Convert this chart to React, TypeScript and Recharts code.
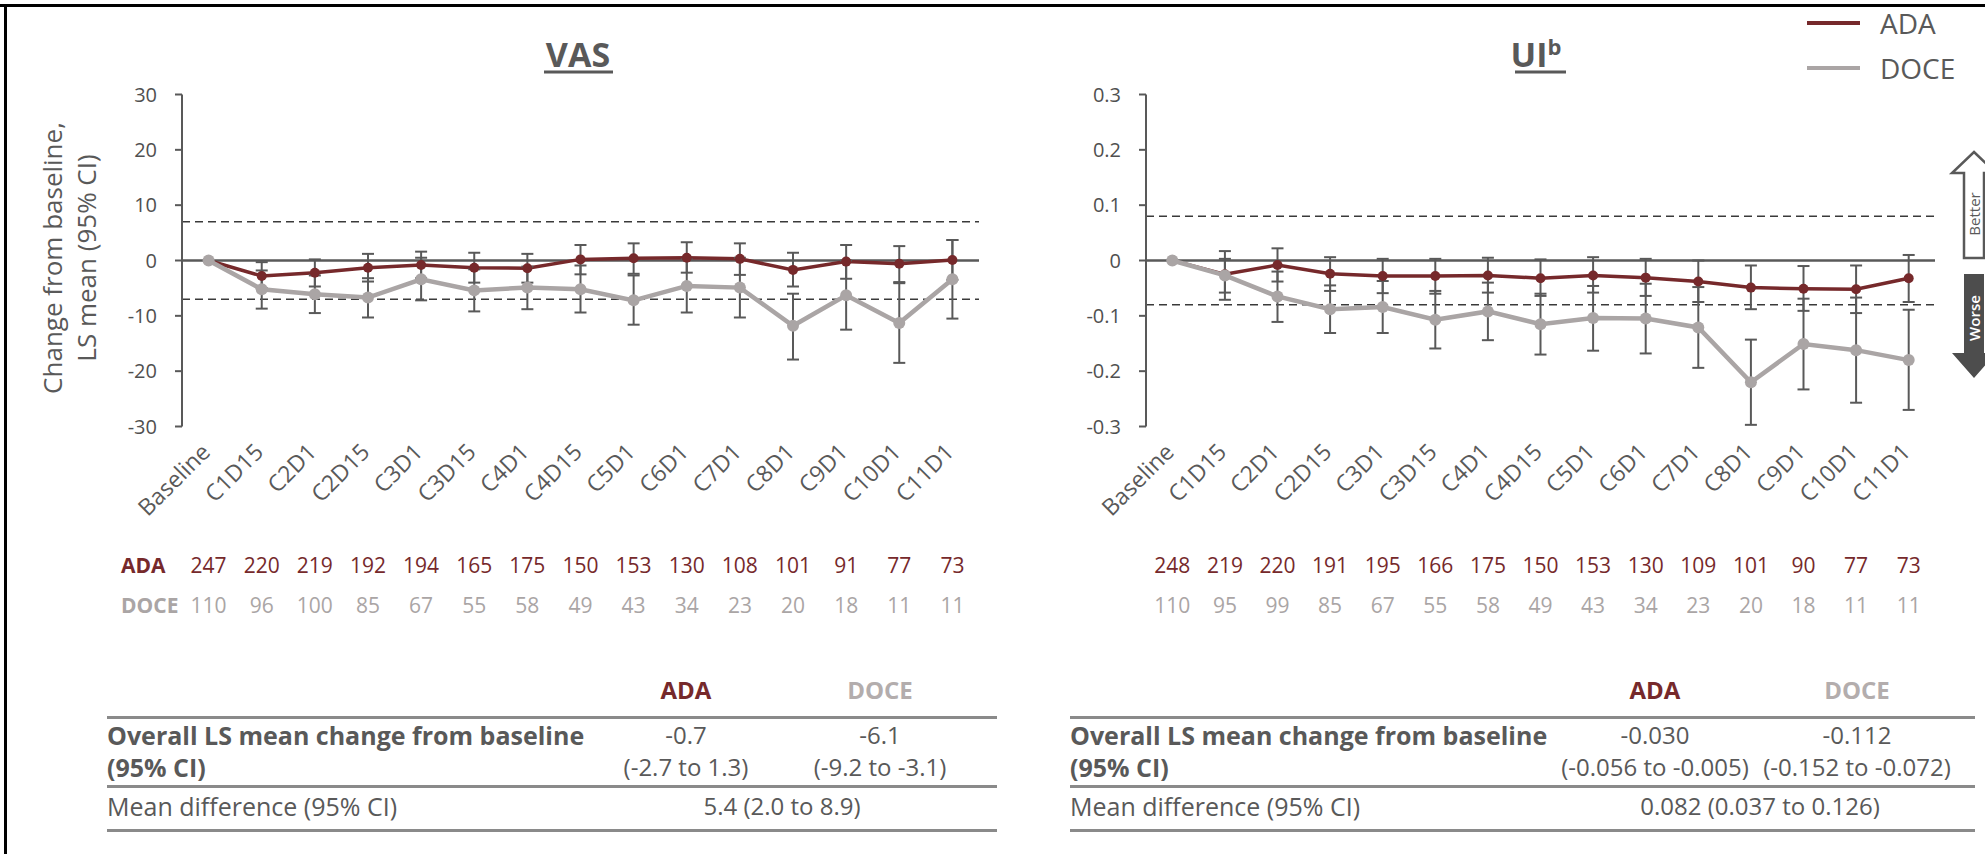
import React from "react";
import {
  LineChart,
  Line,
  XAxis,
  YAxis,
  ErrorBar,
  ReferenceLine,
} from "recharts";

const visits = [
  "Baseline", "C1D15", "C2D1", "C2D15", "C3D1", "C3D15", "C4D1", "C4D15",
  "C5D1", "C6D1", "C7D1", "C8D1", "C9D1", "C10D1", "C11D1",
];

// VAS, LS mean change from baseline with 95% CI
const vasAda = [0, -2.8, -2.2, -1.3, -0.8, -1.3, -1.4, 0.2, 0.4, 0.5, 0.3, -1.7, -0.2, -0.6, 0.1];
const vasAdaLo = [0, -5.0, -4.7, -3.8, -3.2, -4.0, -4.0, -2.5, -2.4, -2.2, -2.6, -4.7, -3.3, -3.9, -3.5];
const vasAdaHi = [0, -0.3, 0.2, 1.2, 1.6, 1.4, 1.2, 2.8, 3.1, 3.3, 3.1, 1.4, 2.8, 2.6, 3.7];
const vasDoce = [0, -5.2, -6.1, -6.7, -3.4, -5.4, -4.9, -5.2, -7.2, -4.6, -4.9, -11.8, -6.3, -11.3, -3.4];
const vasDoceLo = [0, -8.7, -9.5, -10.3, -7.2, -9.2, -8.8, -9.4, -11.6, -9.4, -10.3, -17.9, -12.5, -18.5, -10.5];
const vasDoceHi = [0, -1.8, -2.7, -3.2, 0.5, -1.6, -1.1, -0.9, -2.7, 0.2, 0.5, -6.0, 0.0, -4.1, 3.7];

// UI
const uiAda = [0, -0.025, -0.008, -0.024, -0.028, -0.028, -0.027, -0.032, -0.027, -0.031, -0.038, -0.049, -0.051, -0.052, -0.032];
const uiAdaLo = [0, -0.058, -0.038, -0.055, -0.059, -0.060, -0.058, -0.064, -0.058, -0.064, -0.075, -0.088, -0.091, -0.095, -0.075];
const uiAdaHi = [0, 0.003, 0.022, 0.006, 0.003, 0.003, 0.005, 0.002, 0.006, 0.003, 0.0, -0.009, -0.010, -0.009, 0.010];
const uiDoce = [0, -0.027, -0.065, -0.088, -0.084, -0.107, -0.092, -0.115, -0.104, -0.105, -0.121, -0.220, -0.151, -0.162, -0.180];
const uiDoceLo = [0, -0.071, -0.111, -0.131, -0.131, -0.159, -0.144, -0.170, -0.163, -0.168, -0.194, -0.297, -0.233, -0.257, -0.270];
const uiDoceHi = [0, 0.017, -0.020, -0.045, -0.037, -0.055, -0.040, -0.060, -0.046, -0.042, -0.048, -0.143, -0.069, -0.067, -0.089];

// patients at each visit
const vasNAda = [247, 220, 219, 192, 194, 165, 175, 150, 153, 130, 108, 101, 91, 77, 73];
const vasNDoce = [110, 96, 100, 85, 67, 55, 58, 49, 43, 34, 23, 20, 18, 11, 11];
const uiNAda = [248, 219, 220, 191, 195, 166, 175, 150, 153, 130, 109, 101, 90, 77, 73];
const uiNDoce = [110, 95, 99, 85, 67, 55, 58, 49, 43, 34, 23, 20, 18, 11, 11];

const vasTicks = [-30, -20, -10, 0, 10, 20, 30];
const uiTicks = [-0.3, -0.2, -0.1, 0, 0.1, 0.2, 0.3];

const FONT = "'Open Sans', 'DejaVu Sans', sans-serif";
const RED = "#76292b";
const GREY = "#aaa5a5";
const TXT = "#595959";

function buildRows(a: number[], aLo: number[], aHi: number[], d: number[], dLo: number[], dHi: number[]) {
  return visits.map((visit, i) => ({
    visit,
    ada: a[i],
    doce: d[i],
    adaErr: i === 0 ? null : [a[i] - aLo[i], aHi[i] - a[i]],
    doceErr: i === 0 ? null : [d[i] - dLo[i], dHi[i] - d[i]],
  }));
}

const vasRows = buildRows(vasAda, vasAdaLo, vasAdaHi, vasDoce, vasDoceLo, vasDoceHi);
const uiRows = buildRows(uiAda, uiAdaLo, uiAdaHi, uiDoce, uiDoceLo, uiDoceHi);

function makeTick(nA: number[], nD: number[]) {
  return (props: any) => {
    const { x, y, payload } = props;
    const i = visits.indexOf(payload.value);
    const ax = x + 3;
    const ay = y + 27;
    return (
      <g fontFamily={FONT}>
        <text
          x={ax}
          y={ay}
          transform={`rotate(-45 ${ax} ${ay})`}
          textAnchor="end"
          fontSize={23}
          fill={TXT}
        >
          {payload.value}
        </text>
        <text x={x} y={y + 146} textAnchor="middle" fontSize={21} fill={RED}>
          {nA[i]}
        </text>
        <text x={x} y={y + 186} textAnchor="middle" fontSize={21} fill={GREY}>
          {nD[i]}
        </text>
      </g>
    );
  };
}

interface PanelProps {
  rows: any[];
  left: number;
  width: number;
  marginLeft: number;
  marginRight: number;
  pad: number;
  ticks: number[];
  mid: number;
  nA: number[];
  nD: number[];
  fmt: (v: number) => string;
}

function Panel({ rows, left, width, marginLeft, marginRight, pad, ticks, mid, nA, nD, fmt }: PanelProps) {
  const lo = ticks[0];
  const hi = ticks[ticks.length - 1];
  return (
    <div style={{ position: "absolute", left, top: 0 }}>
      <LineChart
        width={width}
        height={640}
        data={rows}
        margin={{ top: 94.5, left: marginLeft, right: marginRight, bottom: 13.5 }}
      >
        <XAxis
          dataKey="visit"
          interval={0}
          height={200}
          axisLine={false}
          tickLine={false}
          tickSize={0}
          tickMargin={0}
          padding={{ left: pad, right: pad }}
          tick={makeTick(nA, nD)}
        />
        <YAxis
          width={60}
          domain={[lo, hi]}
          ticks={ticks}
          allowDataOverflow
          tickFormatter={fmt}
          stroke={TXT}
          strokeWidth={2}
          tickSize={7}
          tickMargin={18}
          tick={{ fontSize: 20, fill: "#505050", fontFamily: FONT }}
        />
        <ReferenceLine y={mid} stroke="#3a3a3a" strokeWidth={1.5} strokeDasharray="8 5" />
        <ReferenceLine y={-mid} stroke="#3a3a3a" strokeWidth={1.5} strokeDasharray="8 5" />
        <ReferenceLine y={0} stroke={TXT} strokeWidth={2.5} />
        <Line
          dataKey="ada"
          stroke={RED}
          strokeWidth={3.5}
          dot={{ r: 5, fill: RED, stroke: "none" }}
          activeDot={false}
          isAnimationActive={false}
        >
          <ErrorBar dataKey="adaErr" direction="y" width={6} strokeWidth={2} stroke={TXT} />
        </Line>
        <Line
          dataKey="doce"
          stroke={GREY}
          strokeWidth={4.5}
          dot={{ r: 6, fill: GREY, stroke: "none" }}
          activeDot={false}
          isAnimationActive={false}
        >
          <ErrorBar dataKey="doceErr" direction="y" width={6} strokeWidth={2} stroke={TXT} />
        </Line>
      </LineChart>
    </div>
  );
}

function Cell({ x, y, children, bold, color, align, size }: any) {
  const w = 480;
  const isLeft = align === "left";
  return (
    <div
      style={{
        position: "absolute",
        left: isLeft ? x : x - w / 2,
        top: y - 16,
        width: w,
        height: 32,
        lineHeight: "32px",
        textAlign: isLeft ? "left" : "center",
        fontWeight: bold ? 700 : 400,
        color: color || TXT,
        fontSize: size || 24,
        whiteSpace: "nowrap",
      }}
    >
      {children}
    </div>
  );
}

function Rule({ x1, x2, y }: { x1: number; x2: number; y: number }) {
  return (
    <div style={{ position: "absolute", left: x1, top: y - 1.5, width: x2 - x1, height: 3, background: "#8a8a8a" }} />
  );
}

function Table({ x1, x2, cA, cD, cDiff, a, aCi, d, dCi, diff }: any) {
  return (
    <>
      <Cell x={cA} y={690} bold color={RED}>ADA</Cell>
      <Cell x={cD} y={690} bold color="#b3adad">DOCE</Cell>
      <Rule x1={x1} x2={x2} y={717} />
      <Cell x={x1} y={735} bold align="left" size={25}>Overall LS mean change from baseline</Cell>
      <Cell x={x1} y={767} bold align="left" size={25}>(95% CI)</Cell>
      <Cell x={cA} y={735}>{a}</Cell>
      <Cell x={cA} y={767}>{aCi}</Cell>
      <Cell x={cD} y={735}>{d}</Cell>
      <Cell x={cD} y={767}>{dCi}</Cell>
      <Rule x1={x1} x2={x2} y={786} />
      <Cell x={x1} y={806} align="left" size={25}>Mean difference (95% CI)</Cell>
      <Cell x={cDiff} y={806}>{diff}</Cell>
      <Rule x1={x1} x2={x2} y={830} />
    </>
  );
}

export default function App() {
  return (
    <div
      style={{
        position: "absolute",
        left: 0,
        top: 0,
        width: 1985,
        height: 854,
        background: "#fff",
        overflow: "hidden",
        fontFamily: FONT,
      }}
    >
      <Panel
        rows={vasRows}
        left={0}
        width={1000}
        marginLeft={122}
        marginRight={21}
        pad={26.6}
        ticks={vasTicks}
        mid={7}
        nA={vasNAda}
        nD={vasNDoce}
        fmt={(v) => String(v)}
      />
      <Panel
        rows={uiRows}
        left={1000}
        width={985}
        marginLeft={86}
        marginRight={50}
        pad={26.3}
        ticks={uiTicks}
        mid={0.08}
        nA={uiNAda}
        nD={uiNDoce}
        fmt={(v) => (v === 0 ? "0" : v.toFixed(1))}
      />

      {/* row labels for patient numbers */}
      <Cell x={121} y={565} bold color={RED} align="left" size={21}>ADA</Cell>
      <Cell x={121} y={605} bold color={GREY} align="left" size={21}>DOCE</Cell>

      <Table
        x1={107}
        x2={997}
        cA={686}
        cD={880}
        cDiff={782}
        a="-0.7"
        aCi="(-2.7 to 1.3)"
        d="-6.1"
        dCi="(-9.2 to -3.1)"
        diff="5.4 (2.0 to 8.9)"
      />
      <Table
        x1={1070}
        x2={1975}
        cA={1655}
        cD={1857}
        cDiff={1760}
        a="-0.030"
        aCi="(-0.056 to -0.005)"
        d="-0.112"
        dCi="(-0.152 to -0.072)"
        diff="0.082 (0.037 to 0.126)"
      />

      {/* legend */}
      <div style={{ position: "absolute", left: 1807, top: 21, width: 53, height: 4, background: RED }} />
      <div style={{ position: "absolute", left: 1880, top: 4, fontSize: 28, lineHeight: "38px", color: TXT }}>ADA</div>
      <div style={{ position: "absolute", left: 1807, top: 66, width: 53, height: 4, background: GREY }} />
      <div style={{ position: "absolute", left: 1880, top: 49, fontSize: 28, lineHeight: "38px", color: TXT }}>DOCE</div>

      <svg
        width={1985}
        height={854}
        style={{ position: "absolute", left: 0, top: 0, pointerEvents: "none" }}
        fontFamily={FONT}
      >
        {/* frame */}
        <line x1={0} x2={1985} y1={5.5} y2={5.5} stroke="#000" strokeWidth={3} />
        <line x1={5.5} x2={5.5} y1={4} y2={854} stroke="#000" strokeWidth={3} />

        {/* titles */}
        <text x={578} y={67} textAnchor="middle" fontSize={34} fontWeight={700} fill={TXT}>VAS</text>
        <line x1={544} x2={613} y1={72} y2={72} stroke={TXT} strokeWidth={3} />
        <text x={1536} y={67} textAnchor="middle" fontSize={34} fontWeight={700} fill={TXT}>
          UI<tspan dy={-12} fontSize={22}>b</tspan>
        </text>
        <line x1={1515} x2={1566} y1={72} y2={72} stroke={TXT} strokeWidth={3} />

        {/* y axis title */}
        <text transform="translate(52 258) rotate(-90)" textAnchor="middle" dominantBaseline="central" fontSize={26} fill={TXT}>
          Change from baseline,
        </text>
        <text transform="translate(86 258) rotate(-90)" textAnchor="middle" dominantBaseline="central" fontSize={26} fill={TXT}>
          LS mean (95% CI)
        </text>

        {/* better / worse arrows */}
        <polygon
          points="1974,152 1996,173 1984,173 1984,258 1964,258 1964,173 1952,173"
          fill="#fff"
          stroke={TXT}
          strokeWidth={2.5}
        />
        <text transform="translate(1974 214) rotate(-90)" textAnchor="middle" dominantBaseline="central" fontSize={15} fill={TXT}>
          Better
        </text>
        <polygon points="1964,274 1984,274 1984,353 1996,353 1974,378 1952,353 1964,353" fill="#4d4d4d" />
        <text transform="translate(1974 318) rotate(-90)" textAnchor="middle" dominantBaseline="central" fontSize={15} fontWeight={600} fill="#fff">
          Worse
        </text>
      </svg>
    </div>
  );
}
